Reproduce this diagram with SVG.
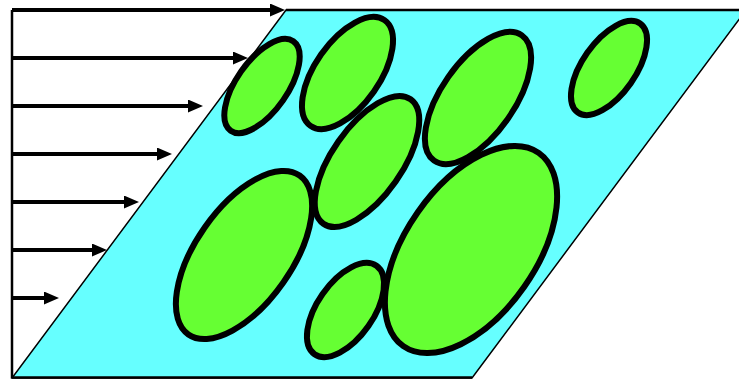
<svg xmlns="http://www.w3.org/2000/svg" width="739" height="380" viewBox="0 0 739 380">
  <style>
    .plate { fill: #66FFFF; stroke: #000; stroke-width: 1.5; }
    .edge { stroke: #000; stroke-width: 2.5; fill: none; }
    .flow { stroke: #000; stroke-width: 4; fill: none; marker-end: url(#head); }
    .cell { fill: #66FF33; stroke: #000; stroke-width: 6; }
  </style>
  <defs>
    <marker id="head" viewBox="0 0 15 13" refX="3" refY="6.5" markerWidth="15" markerHeight="13" markerUnits="userSpaceOnUse" orient="auto">
      <path d="M0,0 L15,6.5 L0,13 z" fill="#000"/>
    </marker>
  </defs>

  <!-- sheared plate -->
  <g id="plate">
    <polygon class="plate" points="12,378 472,378 746,10 286,10"/>
    <line class="edge" x1="286" y1="10" x2="739" y2="10"/>
    <line class="edge" x1="12" y1="377.5" x2="472" y2="377.5"/>
    <line class="edge" x1="12" y1="10" x2="12" y2="378"/>
  </g>

  <!-- velocity profile arrows -->
  <g id="connectors">
    <line class="flow" x1="12" y1="10" x2="273" y2="10"/>
    <line class="flow" x1="12" y1="58" x2="236" y2="58"/>
    <line class="flow" x1="12" y1="106" x2="191" y2="106"/>
    <line class="flow" x1="12" y1="154" x2="160" y2="154"/>
    <line class="flow" x1="12" y1="202" x2="127" y2="202"/>
    <line class="flow" x1="12" y1="250" x2="95" y2="250"/>
    <line class="flow" x1="12" y1="298" x2="47" y2="298"/>
  </g>

  <!-- deformed particles -->
  <g id="cell1"><ellipse class="cell" cx="262" cy="86" rx="54.6" ry="25.5" transform="rotate(-55 262 86)"/></g>
  <g id="cell2"><ellipse class="cell" cx="347.5" cy="73" rx="64.5" ry="32.3" transform="rotate(-55 347.5 73)"/></g>
  <g id="cell3"><ellipse class="cell" cx="367" cy="161.5" rx="76" ry="35" transform="rotate(-55 367 161.5)"/></g>
  <g id="cell4"><ellipse class="cell" cx="478" cy="98" rx="76.5" ry="36.4" transform="rotate(-55 478 98)"/></g>
  <g id="cell5"><ellipse class="cell" cx="609" cy="68" rx="54.3" ry="26.6" transform="rotate(-55 609 68)"/></g>
  <g id="cell6"><ellipse class="cell" cx="471" cy="249.5" rx="118" ry="65" transform="rotate(-55 471 249.5)"/></g>
  <g id="cell7"><ellipse class="cell" cx="244" cy="255" rx="97" ry="48" transform="rotate(-55 244 255)"/></g>
  <g id="cell8"><ellipse class="cell" cx="345.5" cy="310" rx="54" ry="28" transform="rotate(-55 345.5 310)"/></g>
</svg>
